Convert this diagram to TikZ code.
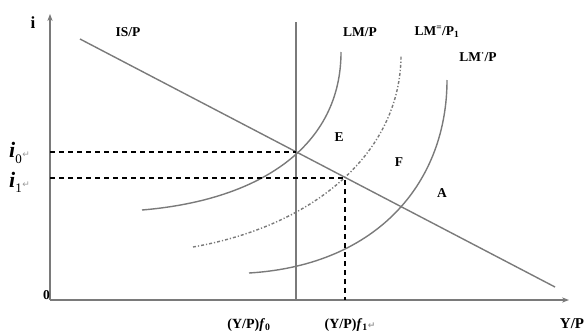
\documentclass[tikz,border=0pt]{standalone}
\usepackage{fontspec}
\setmainfont{Liberation Serif}
\newfontfamily\symfont{DejaVu Sans}
\usetikzlibrary{arrows.meta}
\definecolor{CurveGray}{HTML}{7A7A7A}
\definecolor{MarkGray}{HTML}{9A9A9A}
\newcommand{\parmark}{{\symfont\color{MarkGray}\fontsize{9}{10}\selectfont ↵}}

\begin{document}
\begin{tikzpicture}[x=1pt, y=-1pt,
    curve/.style={draw=CurveGray, line width=1.4pt},
    guide/.style={draw=black, line width=1.1pt, dash pattern=on 5pt off 4pt},
    lbl/.style={font=\bfseries\fontsize{13.5}{15}\selectfont, inner sep=1pt}]
  \useasboundingbox (0,0) rectangle (585,335);

  % axes
  \coordinate (O) at (50,300);
  \coordinate (ytop) at (50,14);
  \coordinate (xend) at (569,300);
  \draw[curve, -{Stealth[length=7pt]}] (O) -- (ytop);
  \draw[curve, -{Stealth[length=7pt]}] (O) -- (xend);
  \node[lbl, anchor=south east] (zero) at (51,301) {0};
  \node[lbl, font=\bfseries\fontsize{17}{18}\selectfont] (ilab) at (33,23) {i};
  \node[lbl, font=\bfseries\fontsize{15}{16}\selectfont] (xlab) at (572,324) {Y/P};

  % IS curve and full-employment output
  \coordinate (IS1) at (80,39);
  \coordinate (IS2) at (555,287);
  \draw[curve] (IS1) -- (IS2);
  \node[lbl] (islab) at (128,32) {IS/P};
  \coordinate (vtop) at (296,22);
  \coordinate (vbot) at (296,300);
  \draw[curve] (vtop) -- (vbot);

  % intersection points
  \coordinate (E) at (296,152);
  \coordinate (Q) at (345,178);
  \coordinate (Ax) at (345,300);

  % LM curves
  \draw[curve] (142,210) .. controls (262,200) and (341,145) .. (341,52);
  \draw[curve, dash pattern=on 3pt off 2pt on 1.2pt off 2pt]
    (193,247) .. controls (318,225) and (401,150) .. (401,55);
  \draw[curve] (249,273) .. controls (380,265) and (447,180) .. (447,80);
  \node[lbl] (lm0) at (360,32) {LM/P};
  \node[lbl] (lm2) at (437,32) {LM\textsuperscript{=}/P\textsubscript{1}};
  \node[lbl] (lm1) at (478,57) {LM\textsuperscript{·}/P};
  \node[lbl] (elab) at (339,137) {E};
  \node[lbl] (flab) at (399,162) {F};
  \node[lbl] (alab) at (442,193) {A};

  % dashed guides
  \coordinate (i0y) at (50,152);
  \coordinate (i1y) at (50,178);
  \draw[guide] (i0y) -- (E);
  \draw[guide] (i1y) -- (Q) -- (Ax);
  \node[anchor=west, inner sep=0pt] (i0) at (9,153)
    {\textbf{\textit{\fontsize{22}{22}\selectfont i}}\textsubscript{\fontsize{13}{13}\selectfont 0}\parmark};
  \node[anchor=west, inner sep=0pt] (i1) at (9,182)
    {\textbf{\textit{\fontsize{22}{22}\selectfont i}}\textsubscript{\fontsize{13}{13}\selectfont 1}\parmark};
  \node[lbl, font=\bfseries\fontsize{14}{15}\selectfont] (yf0) at (249,325) {(Y/P)\textit{f}\textsubscript{0}};
  \node[lbl, font=\bfseries\fontsize{14}{15}\selectfont] (yf1) at (350,325) {(Y/P)\textit{f}\textsubscript{1}\parmark};
\end{tikzpicture}
\end{document}
